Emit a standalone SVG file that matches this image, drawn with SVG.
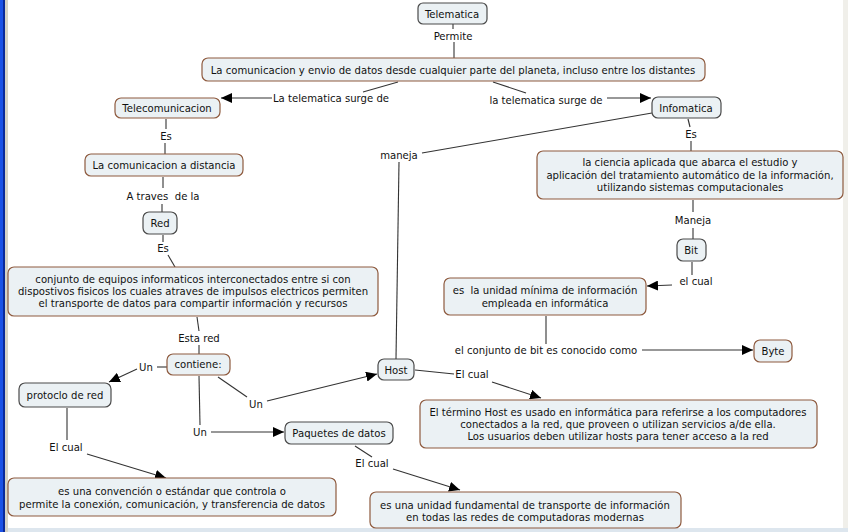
<svg xmlns="http://www.w3.org/2000/svg" width="848" height="532" viewBox="0 0 848 532">
<defs>
<style>
text{font-family:"DejaVu Sans","Verdana",sans-serif;font-size:10.1px;fill:#111;text-anchor:middle;dominant-baseline:central;white-space:pre}
.n rect{fill:#ebf1f4;stroke:#8e5a3e;stroke-width:1.2}
.d rect{fill:#ebf1f4;stroke:#4a4a4a;stroke-width:1.2}
#connectors line,#connectors polyline{stroke:#333;stroke-width:1.1;fill:none}
.a{marker-end:url(#arr)}
</style>
<marker id="arr" markerUnits="userSpaceOnUse" markerWidth="12" markerHeight="10" refX="11" refY="5" orient="auto">
<path d="M0,0 L11,5 L0,10 Z" fill="#000"/>
</marker>
</defs>
<rect width="848" height="532" fill="#ffffff"/>
<rect x="0" y="0" width="3" height="532" fill="#1b52e6"/>
<rect x="3" y="0" width="2" height="532" fill="#0a2a9a"/>
<rect x="5" y="0" width="3" height="532" fill="#d6d3c6"/>
<rect x="843" y="0" width="5" height="532" fill="#f0efea"/>
<rect x="8" y="528" width="840" height="4" fill="#dde6ee"/>

<g id="connectors">
<line x1="453" y1="24" x2="453" y2="29"/>
<line x1="454" y1="42" x2="454" y2="58"/>
<line x1="398" y1="82" x2="363" y2="92"/>
<line x1="272" y1="98" x2="221" y2="98" class="a"/>
<line x1="493" y1="82" x2="526" y2="93"/>
<line x1="607" y1="98" x2="651" y2="98" class="a"/>
<line x1="166" y1="119" x2="166" y2="129"/>
<line x1="165" y1="143" x2="165" y2="154"/>
<line x1="688" y1="119" x2="690" y2="127"/>
<line x1="691" y1="141" x2="691" y2="151"/>
<line x1="652" y1="113" x2="422" y2="153"/>
<line x1="399" y1="162" x2="396" y2="359"/>
<line x1="693" y1="200" x2="693" y2="212"/>
<line x1="693" y1="228" x2="693" y2="239"/>
<line x1="692" y1="262" x2="692" y2="275"/>
<line x1="672" y1="285" x2="647" y2="286" class="a"/>
<line x1="546" y1="316" x2="546" y2="344"/>
<line x1="642" y1="350" x2="753" y2="350" class="a"/>
<line x1="163" y1="177" x2="163" y2="188"/>
<line x1="162" y1="204" x2="162" y2="212"/>
<line x1="163" y1="235" x2="163" y2="242"/>
<line x1="168" y1="255" x2="175" y2="267"/>
<line x1="197" y1="317" x2="199" y2="331"/>
<line x1="199" y1="345" x2="199" y2="354"/>
<line x1="167" y1="367" x2="157" y2="367"/>
<line x1="137" y1="369" x2="109" y2="382" class="a"/>
<line x1="67" y1="408" x2="67" y2="440"/>
<line x1="87" y1="454" x2="166" y2="478" class="a"/>
<line x1="199" y1="376" x2="200" y2="425"/>
<line x1="211" y1="432" x2="284" y2="432" class="a"/>
<line x1="218" y1="377" x2="247" y2="397"/>
<line x1="267" y1="401" x2="377" y2="374" class="a"/>
<line x1="415" y1="370" x2="454" y2="374"/>
<line x1="492" y1="382" x2="541" y2="398" class="a"/>
<line x1="355" y1="446" x2="372" y2="457"/>
<line x1="393" y1="469" x2="460" y2="490" class="a"/>
<g>
<text x="453" y="36">Permite</text>
<text x="331" y="98">La telematica surge de</text>
<text x="546" y="100">la telematica surge de</text>
<text x="166" y="136">Es</text>
<text x="691" y="134">Es</text>
<text x="399" y="155">maneja</text>
<text x="693" y="220">Maneja</text>
<text x="696" y="281">el cual</text>
<text x="546" y="350">el conjunto de bit es conocido como</text>
<text x="163" y="196">A traves  de la</text>
<text x="163" y="248">Es</text>
<text x="199" y="338">Esta red</text>
<text x="146" y="367">Un</text>
<text x="66" y="447">El cual</text>
<text x="200" y="432">Un</text>
<text x="256" y="404">Un</text>
<text x="472" y="374">El cual</text>
<text x="372" y="463">El cual</text>
</g>
</g>

<g id="telematica" class="d"><rect x="418" y="3" width="69" height="21" rx="5"/><text x="452" y="14">Telematica</text></g>
<g id="comunicacion" class="n"><rect x="202" y="58" width="503" height="23" rx="6"/><text x="453" y="70">La comunicacion y envio de datos desde cualquier parte del planeta, incluso entre los distantes</text></g>
<g id="telecomunicacion" class="n"><rect x="115" y="98" width="105" height="20" rx="6"/><text x="167" y="108">Telecomunicacion</text></g>
<g id="infomatica" class="d"><rect x="652" y="97" width="69" height="21" rx="6"/><text x="686" y="108">Infomatica</text></g>
<g id="ciencia" class="n"><rect x="537" y="151" width="306" height="48" rx="6"/><text x="690" y="162">la ciencia aplicada que abarca el estudio y</text><text x="690" y="175">aplicación del tratamiento automático de la información,</text><text x="690" y="187">utilizando sistemas computacionales</text></g>
<g id="bit" class="d"><rect x="677" y="239" width="29" height="22" rx="6"/><text x="691" y="250">Bit</text></g>
<g id="unidad" class="n"><rect x="444" y="278" width="202" height="37" rx="6"/><text x="545" y="290">es  la unidad mínima de información</text><text x="545" y="303">empleada en informática</text></g>
<g id="byte" class="n"><rect x="754" y="340" width="38" height="22" rx="6"/><text x="773" y="351">Byte</text></g>
<g id="distancia" class="n"><rect x="85" y="154" width="158" height="22" rx="6"/><text x="164" y="165">La comunicacion a distancia</text></g>
<g id="red" class="d"><rect x="143" y="212" width="34" height="22" rx="6"/><text x="160" y="223">Red</text></g>
<g id="conjunto" class="n"><rect x="8" y="267" width="370" height="49" rx="6"/><text x="193" y="279">conjunto de equipos informaticos interconectados entre si con</text><text x="193" y="291">dispostivos fisicos los cuales atraves de impulsos electricos permiten</text><text x="193" y="303">el transporte de datos para compartir información y recursos</text></g>
<g id="contiene" class="n"><rect x="167" y="354" width="63" height="21" rx="6"/><text x="198" y="364">contiene:</text></g>
<g id="protocolo" class="d"><rect x="19" y="383" width="92" height="24" rx="6"/><text x="65" y="395">protoclo de red</text></g>
<g id="convencion" class="n"><rect x="8" y="478" width="328" height="38" rx="6"/><text x="172" y="491">es una convención o estándar que controla o</text><text x="172" y="504">permite la conexión, comunicación, y transferencia de datos</text></g>
<g id="paquetes" class="d"><rect x="285" y="422" width="108" height="22" rx="6"/><text x="339" y="433">Paquetes de datos</text></g>
<g id="host" class="d"><rect x="378" y="359" width="36" height="21" rx="6"/><text x="396" y="370">Host</text></g>
<g id="termino" class="n"><rect x="420" y="400" width="397" height="48" rx="6"/><text x="618" y="412">El término Host es usado en informática para referirse a los computadores</text><text x="618" y="424">conectados a la red, que proveen o utilizan servicios a/de ella.</text><text x="618" y="436">Los usuarios deben utilizar hosts para tener acceso a la red</text></g>
<g id="unidadfund" class="n"><rect x="370" y="492" width="311" height="36" rx="6"/><text x="525" y="505">es una unidad fundamental de transporte de información</text><text x="525" y="517">en todas las redes de computadoras modernas</text></g>
</svg>
